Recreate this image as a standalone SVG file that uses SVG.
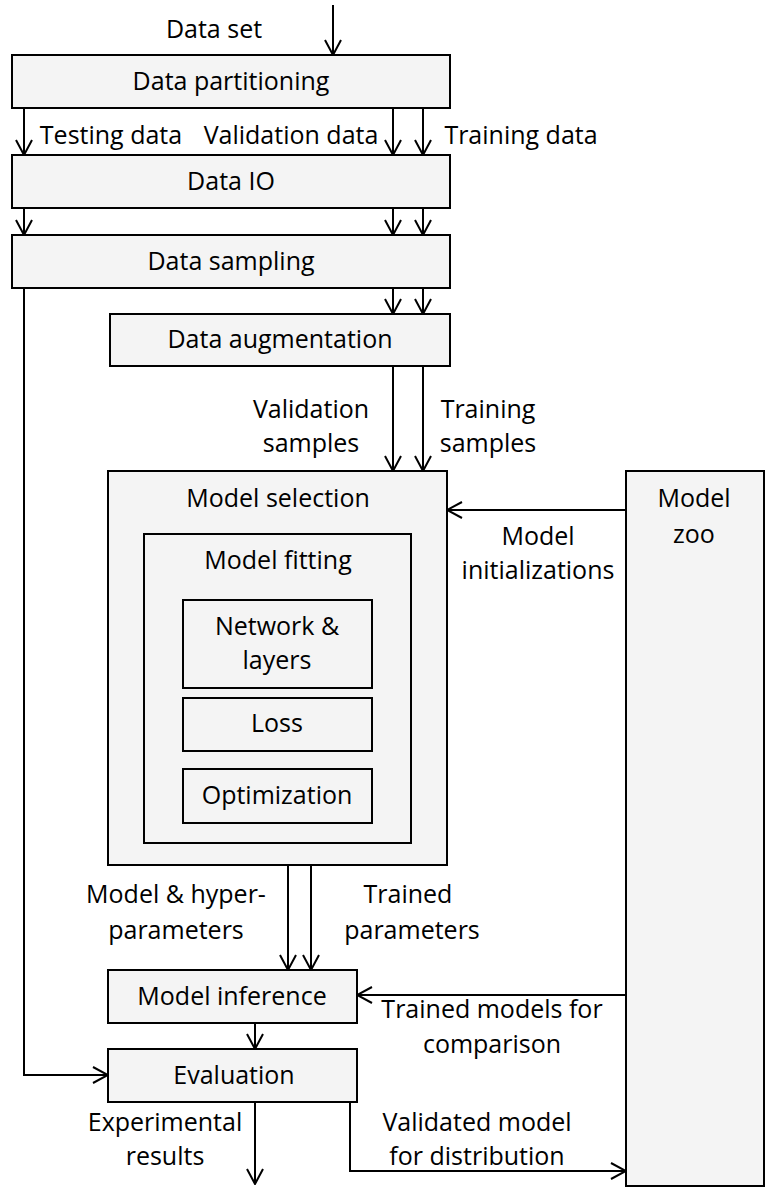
<svg xmlns="http://www.w3.org/2000/svg" width="774" height="1191" viewBox="0 0 774 1191">
<style>
.box{fill:#f4f4f4;stroke:#000;stroke-width:2}
.t{font-family:"Open Sans","Liberation Sans",Arial,sans-serif;font-size:25px;fill:#000;text-anchor:middle}
.ar{fill:none;stroke:#000;stroke-width:2;marker-end:url(#ah)}
</style>
<defs>
<marker id="ah" viewBox="0 0 20 20" refX="19" refY="10" markerWidth="20" markerHeight="20" markerUnits="userSpaceOnUse" orient="auto">
<path d="M4,2 L19,10 L4,18" fill="none" stroke="#000" stroke-width="2"/>
</marker>
</defs>
<rect width="774" height="1191" fill="#fff"/>
<g id="connectors">
<line class="ar" x1="333" y1="5" x2="333" y2="55"/>
<line class="ar" x1="24" y1="108" x2="24" y2="155"/>
<line class="ar" x1="393" y1="108" x2="393" y2="155"/>
<line class="ar" x1="423" y1="108" x2="423" y2="155"/>
<line class="ar" x1="24" y1="208" x2="24" y2="235"/>
<line class="ar" x1="393" y1="208" x2="393" y2="235"/>
<line class="ar" x1="423" y1="208" x2="423" y2="235"/>
<polyline class="ar" points="24,288 24,1075 108,1075"/>
<line class="ar" x1="393" y1="288" x2="393" y2="314"/>
<line class="ar" x1="423" y1="288" x2="423" y2="314"/>
<line class="ar" x1="393" y1="366" x2="393" y2="471"/>
<line class="ar" x1="423" y1="366" x2="423" y2="471"/>
<line class="ar" x1="626" y1="510" x2="447" y2="510"/>
<line class="ar" x1="288" y1="865" x2="288" y2="970"/>
<line class="ar" x1="311" y1="843" x2="311" y2="970"/>
<line class="ar" x1="626" y1="995" x2="357" y2="995"/>
<line class="ar" x1="255" y1="1023" x2="255" y2="1049"/>
<line class="ar" x1="255" y1="1102" x2="255" y2="1184"/>
<polyline class="ar" points="350,1102 350,1171 626,1171"/>
<text class="t" x="214" y="38">Data set</text>
<text class="t" x="111" y="144">Testing data</text>
<text class="t" x="291" y="144">Validation data</text>
<text class="t" x="521" y="144">Training data</text>
<text class="t" x="311" y="418">Validation</text>
<text class="t" x="311" y="452">samples</text>
<text class="t" x="488" y="418">Training</text>
<text class="t" x="488" y="452">samples</text>
<text class="t" x="538" y="545">Model</text>
<text class="t" x="538" y="579">initializations</text>
<text class="t" x="176" y="903">Model &amp; hyper-</text>
<text class="t" x="176" y="939">parameters</text>
<text class="t" x="408" y="903">Trained</text>
<text class="t" x="412" y="939">parameters</text>
<text class="t" x="492" y="1018">Trained models for</text>
<text class="t" x="492" y="1053">comparison</text>
<text class="t" x="165" y="1131">Experimental</text>
<text class="t" x="165" y="1165">results</text>
<text class="t" x="477" y="1131">Validated model</text>
<text class="t" x="477" y="1165">for distribution</text>
</g>
<g id="data-partitioning"><rect class="box" x="12" y="55" width="438" height="53"/><text class="t" x="231" y="90">Data partitioning</text></g>
<g id="data-io"><rect class="box" x="12" y="155" width="438" height="53"/><text class="t" x="231" y="190">Data IO</text></g>
<g id="data-sampling"><rect class="box" x="12" y="235" width="438" height="53"/><text class="t" x="231" y="270">Data sampling</text></g>
<g id="data-augmentation"><rect class="box" x="110" y="314" width="340" height="52"/><text class="t" x="280" y="348">Data augmentation</text></g>
<g id="model-selection"><rect class="box" x="108" y="471" width="339" height="394"/><text class="t" x="278" y="507">Model selection</text></g>
<g id="model-fitting"><rect class="box" x="144" y="534" width="267" height="309"/><text class="t" x="278" y="569">Model fitting</text></g>
<g id="network-layers"><rect class="box" x="183" y="600" width="189" height="88"/><text class="t" x="277" y="635">Network &amp;</text><text class="t" x="277" y="669">layers</text></g>
<g id="loss"><rect class="box" x="183" y="698" width="189" height="53"/><text class="t" x="277" y="732">Loss</text></g>
<g id="optimization"><rect class="box" x="183" y="769" width="189" height="54"/><text class="t" x="277" y="804">Optimization</text></g>
<g id="model-zoo"><rect class="box" x="626" y="471" width="138" height="715"/><text class="t" x="694" y="507">Model</text><text class="t" x="694" y="543">zoo</text></g>
<g id="model-inference"><rect class="box" x="108" y="970" width="249" height="53"/><text class="t" x="232" y="1005">Model inference</text></g>
<g id="evaluation"><rect class="box" x="108" y="1049" width="249" height="53"/><text class="t" x="234" y="1084">Evaluation</text></g>
</svg>
